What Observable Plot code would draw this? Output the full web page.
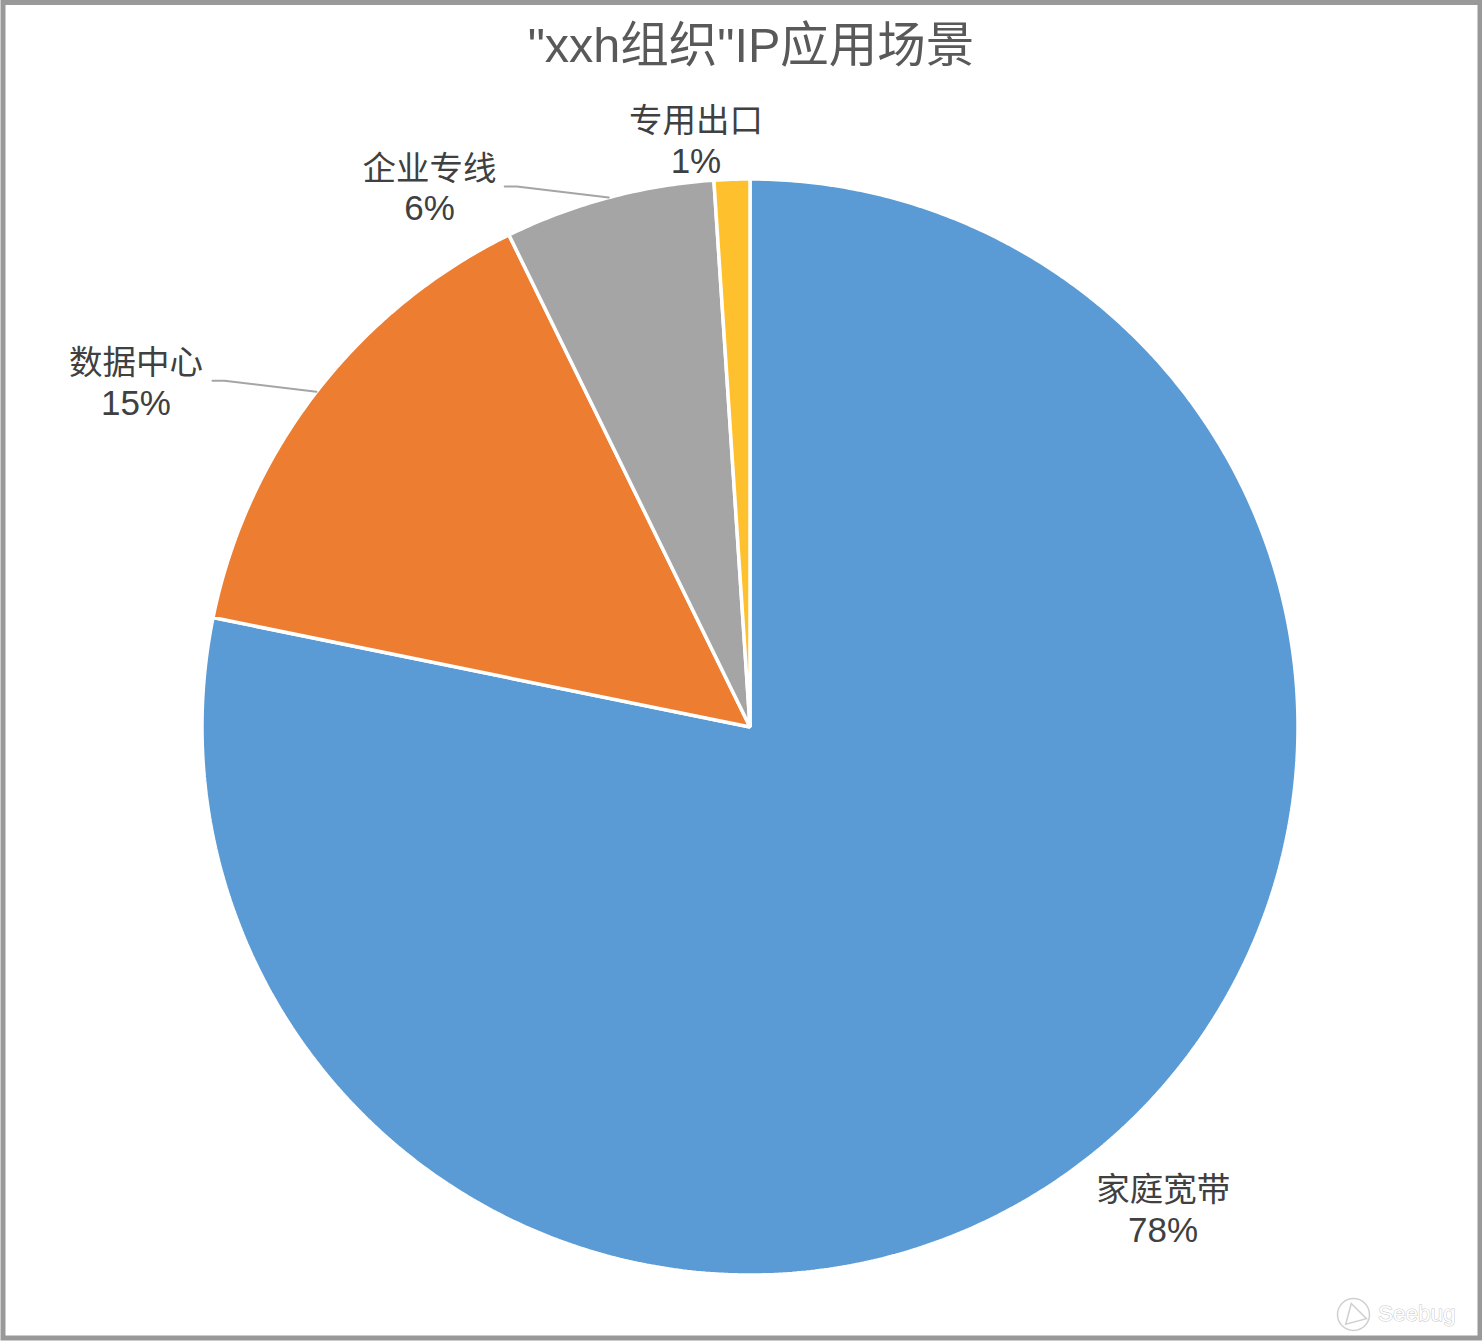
<!DOCTYPE html>
<html lang="zh">
<head>
<meta charset="utf-8">
<title>"xxh组织"IP应用场景</title>
<script src="https://cdn.jsdelivr.net/npm/d3@7"></script>
<script src="https://cdn.jsdelivr.net/npm/@observablehq/plot@0.6"></script>
<style>
  html, body { margin: 0; padding: 0; background: #fff; overflow: hidden; }
  svg { display: block; }
</style>
</head>
<body>
<div id="chart"></div>
<script>
// Data
const categories = ["家庭宽带", "数据中心", "企业专线", "专用出口"];
const shares = [78.2, 14.55, 6.2, 1.05];
const colors = ["#5B9BD5", "#ED7D31", "#A5A5A5", "#FFC02E"];
const chartTitle = '"xxh组织"IP应用场景';
const watermark = "Seebug";

// Layout
const W = 1482, H = 1342, CX = 749.5, CY = 726.5, R = 548;
const labelOffsets = [[66.5, 39], [-180.5, -28.3], [-179.2, -28.5], [-36, -57.8]];
const leaderSlices = ["数据中心", "企业专线"];
const leaderShape = [[-104, -11], [-92, -11], [0, 0]];

const pieRows = d3.pie().value((d) => d.share).sortValues(null).sort(null)
  .startAngle(0).endAngle(2 * Math.PI)(categories.map((name, i) => ({name, share: shares[i]})));
// the chart runs clockwise from 12 o'clock, blue first
const unit = (a, r = 1) => ({x: r * Math.sin(a), y: r * Math.cos(a)});

const wedges = pieRows.flatMap((p) => {
  const steps = Math.max(4, Math.ceil((p.endAngle - p.startAngle) * 120));
  const pts = [{name: p.data.name, x: 0, y: 0}];
  for (let k = 0; k <= steps; k++) {
    pts.push({name: p.data.name, ...unit(p.startAngle + (p.endAngle - p.startAngle) * k / steps)});
  }
  return pts;
});

const mids = pieRows.map((p, i) => ({
  name: p.data.name,
  pct: `${Math.round(p.data.share)}%`,
  offset: labelOffsets[i],
  ...unit((p.startAngle + p.endAngle) / 2)
}));

const leaders = mids.filter((m) => leaderSlices.includes(m.name)).flatMap((m) =>
  leaderShape.map(([dx, dy]) => ({name: m.name, x: m.x + dx / R, y: m.y - dy / R}))
);

const sans = '"Liberation Sans", "Noto Sans CJK SC", sans-serif';

const chart = Plot.plot({
  width: W,
  height: H,
  margin: 0,
  style: {background: "#fff", fontFamily: sans},
  x: {domain: [-CX / R, (W - CX) / R], range: [0, W], axis: null},
  y: {domain: [CY / R, -(H - CY) / R], range: [0, H], axis: null},
  color: {domain: categories, range: colors},
  marks: [
    Plot.frame({stroke: "#999999", strokeWidth: 5, insetTop: 2, insetLeft: 2.5, insetRight: 2.5, insetBottom: 4.5}),
    Plot.line(wedges, {
      x: "x", y: "y", z: "name", fill: "name",
      stroke: "#fff", strokeWidth: 3.5, curve: "linear-closed", strokeLinejoin: "miter"
    }),
    Plot.line(leaders, {x: "x", y: "y", z: "name", stroke: "#A5A5A5", strokeWidth: 2}),
    ...mids.map((m) => Plot.text([m], {
      x: "x", y: "y", text: "name", dx: m.offset[0], dy: m.offset[1],
      fontSize: 33.5, fill: "#404040", fontFamily: sans, textAnchor: "middle", lineAnchor: "middle"
    })),
    ...mids.map((m) => Plot.text([m], {
      x: "x", y: "y", text: "pct", dx: m.offset[0], dy: m.offset[1] + 40,
      fontSize: 35, fill: "#404040", fontFamily: sans, textAnchor: "middle", lineAnchor: "middle"
    })),
    Plot.text([chartTitle], {
      frameAnchor: "top", dx: 9.5, dy: 27, lineAnchor: "top", fontSize: 48.5, fill: "#595959", fontFamily: sans
    }),
    Plot.dot([0], {frameAnchor: "bottom-right", dx: -129, dy: -28, r: 16, stroke: "#d0d0d0", strokeWidth: 1.5, fill: "none"}),
    Plot.dot([0], {frameAnchor: "bottom-right", dx: -128, dy: -27, r: 8, symbol: "triangle", rotate: -15, stroke: "#d0d0d0", strokeWidth: 1.5, fill: "none"}),
    Plot.text([watermark], {
      frameAnchor: "bottom-right", dx: -27, dy: -22, fontSize: 22.5, fill: "#fff", stroke: "#c4c4c4", strokeWidth: 1, fontFamily: sans, textAnchor: "end"
    })
  ]
});
document.getElementById("chart").append(chart);
</script>
</body>
</html>
